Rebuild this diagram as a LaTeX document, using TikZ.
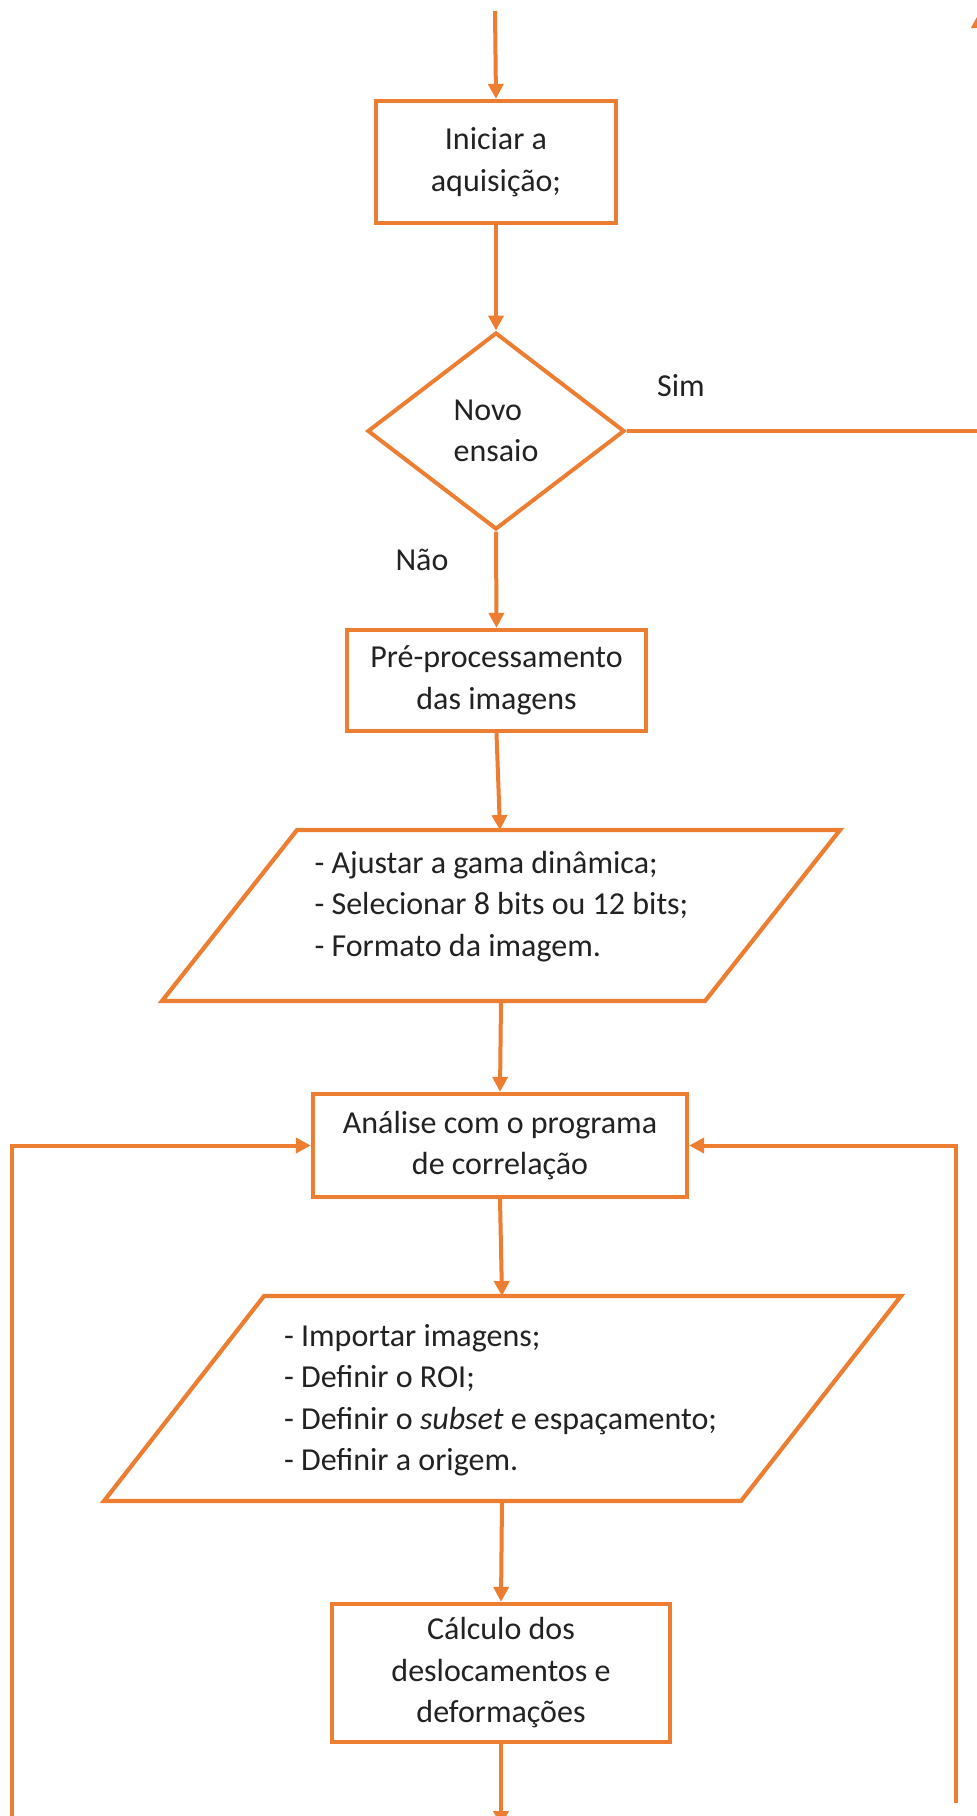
\documentclass[tikz,border=0pt]{standalone}
\usepackage{fontspec}
\setmainfont{Carlito}
\usetikzlibrary{arrows.meta,shapes.geometric}
\definecolor{flowline}{HTML}{ED7D31}
\definecolor{flowtext}{HTML}{222222}
\begin{document}
\begin{tikzpicture}[x=1pt,y=-1pt,
  every node/.style={font=\fontsize{32}{41.5}\selectfont, text=flowtext},
  stepbox/.style={rectangle, draw=flowline, line width=4.3pt, fill=white,
    align=center, inner sep=0pt},
  decision/.style={diamond, draw=flowline, line width=4pt, fill=white,
    align=left, inner sep=0pt},
  iobox/.style={draw=flowline, line width=4.2pt, fill=white, line join=miter},
  conn/.style={draw=flowline, line width=4pt, -{Triangle[length=15pt,width=15pt]}},
  plain/.style={draw=flowline, line width=4pt},
]
\clip (0,0) rectangle (977,1816);

% corners of the two data blocks
\coordinate (p1tl) at (297,830);  \coordinate (p1tr) at (840,830);
\coordinate (p1br) at (705,1001); \coordinate (p1bl) at (162,1001);
\coordinate (p2tl) at (264,1296); \coordinate (p2tr) at (901,1296);
\coordinate (p2br) at (741,1501); \coordinate (p2bl) at (104,1501);
\draw[iobox] (p1tl) -- (p1tr) -- (p1br) -- (p1bl) -- cycle;
\draw[iobox] (p2tl) -- (p2tr) -- (p2br) -- (p2bl) -- cycle;
\coordinate (p1in) at (500,830);  \coordinate (p1out) at (501,1001);
\coordinate (p2in) at (502,1296); \coordinate (p2out) at (502,1501);

% process boxes, decision and data texts
\node[stepbox, minimum width=240pt, minimum height=122pt] (b1) at (496,162) {Iniciar a\\aquisição;};
\node[decision, minimum width=257pt, minimum height=197pt] (d) at (496,431) {Novo\\ensaio};
\node[stepbox, minimum width=299pt, minimum height=101pt] (b2) at (496.5,680.5) {Pré-processamento\\das imagens};
\node[align=left] (p1t) at (501.5,906.5) {- Ajustar a gama dinâmica;\\- Selecionar 8 bits ou 12 bits;\\- Formato da imagem.};
\node[stepbox, minimum width=374pt, minimum height=103pt] (b3) at (500,1145.5) {Análise com o programa\\de correlação};
\node[align=left] (p2t) at (500.5,1400) {- Importar imagens;\\- Definir o ROI;\\- Definir o \textit{subset} e espaçamento;\\- Definir a origem.};
\node[stepbox, minimum width=338pt, minimum height=138pt] (b4) at (501,1673) {Cálculo dos\\deslocamentos e\\deformações};

% branch labels
\node (sim) at (681,386) {Sim};
\node (nao) at (422,560) {Não};

% free ends of connectors
\coordinate (start) at (495,11);
\coordinate (simcorner) at (979,431);
\coordinate (simtop) at (979,13);
\coordinate (lbottom) at (12,1822);
\coordinate (rbottom) at (956,1803);
\coordinate (finish) at (501,1826);

% connectors
\draw[conn] (start) -- (b1.north);
\draw[conn] (b1.south) -- (d.north);
\draw[plain] (d.east) -- (simcorner);
\draw[conn] (simcorner) -- (simtop);
\draw[conn] (d.south) -- (b2.north);
\draw[conn] (b2.south) -- (p1in);
\draw[conn] (p1out) -- (b3.north);
\draw[conn] (b3.south) -- (p2in);
\draw[conn] (p2out) -- (b4.north);
\draw[conn] (b4.south) -- (finish);
\draw[conn] (lbottom) |- (b3.west);
\draw[conn] (rbottom) |- (b3.east);
\end{tikzpicture}
\end{document}
